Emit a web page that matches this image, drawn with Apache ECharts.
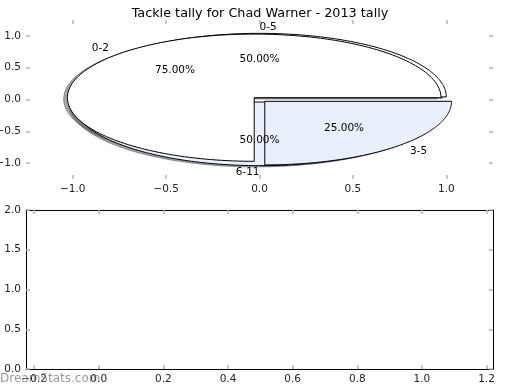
<!DOCTYPE html>
<html>
<head>
<meta charset="utf-8">
<script src="https://cdn.jsdelivr.net/npm/echarts@6/dist/echarts.min.js"></script>
<style>html,body{margin:0;padding:0;background:#fff}#c{width:520px;height:390px}</style>
</head>
<body>
<div id="c"></div>
<script>
// ---- data ----
const chartTitle = 'Tackle tally for Chad Warner - 2013 tally';
const pieBLabels = ['0-5', '6-11'];
const pieBValues = [50, 50];
const pieALabels = ['0-2', '3-5'];
const pieAValues = [75, 25];
const topTicks = [-1.0, -0.5, 0.0, 0.5, 1.0];
const bottomXTicks = [-0.2, 0.0, 0.2, 0.4, 0.6, 0.8, 1.0, 1.2];
const bottomYTicks = [0.0, 0.5, 1.0, 1.5, 2.0];
const watermark = 'DreamStats.com';

// ---- style ----
const FONT = 'DejaVu Sans';
const wedgeColors = ['#ffffff', '#e9f0fc'];
const EXPLODE = 0.04;
const SHADOW_OFF = [-0.02, -0.02];
const tickColor = '#b4b4b4';
const labelColor = '#222';

function wedgesOf(values, labels) {
  const total = values.reduce((a, b) => a + b, 0);
  let acc = 0;
  return values.map((v, i) => {
    const t1 = acc / total * 2 * Math.PI;
    acc += v;
    const t2 = acc / total * 2 * Math.PI;
    const mid = (t1 + t2) / 2;
    return {
      t1, t2, mid, label: labels[i], color: wedgeColors[i % wedgeColors.length],
      pct: (v / total * 100).toFixed(2) + '%',
      cx: EXPLODE * Math.cos(mid), cy: EXPLODE * Math.sin(mid)
    };
  });
}
const pieB = wedgesOf(pieBValues, pieBLabels);
const pieA = wedgesOf(pieAValues, pieALabels);
const allWedges = pieB.concat(pieA);

function wedgePoints(api, w, ox, oy) {
  const pts = [];
  const cx = w.cx + ox, cy = w.cy + oy;
  pts.push(api.coord([cx, cy]));
  const N = 160;
  for (let k = 0; k <= N; k++) {
    const a = w.t1 + (w.t2 - w.t1) * k / N;
    pts.push(api.coord([cx + Math.cos(a), cy + Math.sin(a)]));
  }
  return pts;
}

function wedgeSeries(wedges, name) {
  return {
    type: 'custom', name, xAxisIndex: 0, yAxisIndex: 0, clip: false,
    data: wedges.map((w, i) => [i, 0]),
    renderItem: (params, api) => {
      const w = wedges[params.dataIndex];
      return {
        type: 'polygon',
        shape: { points: wedgePoints(api, w, 0, 0) },
        style: { fill: w.color, stroke: '#000', lineWidth: 1 }
      };
    }
  };
}

const shadowSeries = {
  type: 'custom', name: 'shadow', xAxisIndex: 0, yAxisIndex: 0, clip: false,
  data: allWedges.map((w, i) => [i, 0]),
  renderItem: (params, api) => {
    const w = allWedges[params.dataIndex];
    return {
      type: 'polygon',
      shape: { points: wedgePoints(api, w, SHADOW_OFF[0], SHADOW_OFF[1]) },
      style: { fill: 'rgba(77,77,77,0.5)', stroke: 'rgba(77,77,77,0.5)', lineWidth: 1 }
    };
  }
};

const labelSeries = {
  type: 'custom', name: 'labels', xAxisIndex: 0, yAxisIndex: 0, clip: false, z: 5,
  data: allWedges.map((w, i) => [i, 0]),
  renderItem: (params, api) => {
    const w = allWedges[params.dataIndex];
    const lp = api.coord([w.cx + 1.1 * Math.cos(w.mid), w.cy + 1.1 * Math.sin(w.mid)]);
    const pp = api.coord([w.cx + 0.6 * Math.cos(w.mid), w.cy + 0.6 * Math.sin(w.mid)]);
    return {
      type: 'group',
      children: [
        { type: 'text', x: lp[0], y: lp[1], style: { text: w.label, fill: '#000', font: '10.5px "' + FONT + '"', align: Math.cos(w.mid) > 0 ? 'left' : 'right', verticalAlign: 'middle' } },
        { type: 'text', x: pp[0], y: pp[1], style: { text: w.pct, fill: '#000', font: '10.5px "' + FONT + '"', align: 'center', verticalAlign: 'middle' } }
      ]
    };
  }
};

function fmt(v) { return (v < 0 ? '\u2212' : '') + Math.abs(v).toFixed(1); }

function mkAxis(opts) {
  return Object.assign({
    type: 'value',
    splitLine: { show: false },
    axisLine: { show: !!opts.line, onZero: false, lineStyle: { color: '#000', width: 1 } },
    axisTick: { show: true, inside: true, length: 4, lineStyle: { color: tickColor, width: 1.5 }, customValues: opts.ticks },
    axisLabel: { show: opts.label, customValues: opts.ticks, formatter: fmt, color: labelColor, fontFamily: FONT, fontSize: 10.5, margin: 5 }
  }, opts.extra);
}

const option = {
  animation: false,
  backgroundColor: '#fff',
  title: { text: chartTitle, left: 'center', top: 2, textStyle: { fontFamily: FONT, fontSize: 12.8, fontWeight: 'normal', color: '#000' } },
  grid: [
    { left: 26, right: 27, top: 20, height: 159, containLabel: false, outerBoundsMode: 'none' },
    { left: 26, right: 27, top: 210, height: 159, containLabel: false, outerBoundsMode: 'none' }
  ],
  xAxis: [
    mkAxis({ ticks: topTicks, label: true, line: false, extra: { gridIndex: 0, min: -1.25, max: 1.25, position: 'bottom' } }),
    mkAxis({ ticks: topTicks, label: false, line: false, extra: { gridIndex: 0, min: -1.25, max: 1.25, position: 'top' } }),
    mkAxis({ ticks: bottomXTicks, label: true, line: true, extra: { gridIndex: 1, min: -0.225, max: 1.22, position: 'bottom' } }),
    mkAxis({ ticks: bottomXTicks, label: false, line: true, extra: { gridIndex: 1, min: -0.225, max: 1.22, position: 'top' } })
  ],
  yAxis: [
    mkAxis({ ticks: topTicks, label: true, line: false, extra: { gridIndex: 0, min: -1.25, max: 1.25, position: 'left' } }),
    mkAxis({ ticks: topTicks, label: false, line: false, extra: { gridIndex: 0, min: -1.25, max: 1.25, position: 'right' } }),
    mkAxis({ ticks: bottomYTicks, label: true, line: true, extra: { gridIndex: 1, min: 0, max: 2, position: 'left' } }),
    mkAxis({ ticks: bottomYTicks, label: false, line: true, extra: { gridIndex: 1, min: 0, max: 2, position: 'right' } })
  ],
  graphic: [
    { type: 'text', left: 0, top: 373, z: 100, style: { text: watermark, fill: 'rgba(120,120,120,0.75)', font: '12px "' + FONT + '"' } }
  ],
  series: [
    shadowSeries,
    wedgeSeries(pieB, 'pieB'),
    wedgeSeries(pieA, 'pieA'),
    labelSeries
  ]
};

const chart = echarts.init(document.getElementById('c'), null, { renderer: 'canvas' });
chart.setOption(option);
</script>
</body>
</html>
